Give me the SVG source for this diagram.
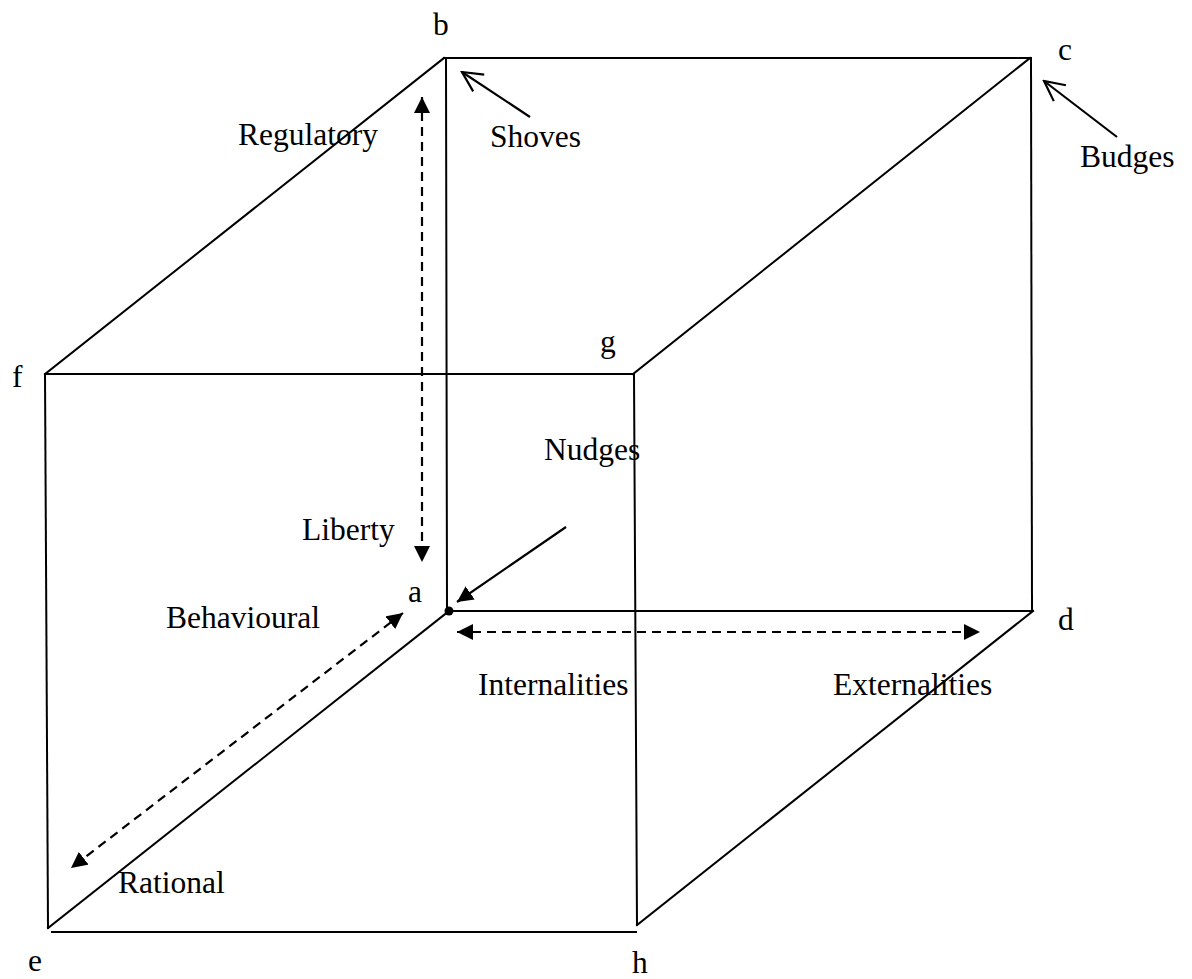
<svg xmlns="http://www.w3.org/2000/svg" width="1192" height="979" viewBox="0 0 1192 979">
<style>
.edge{stroke:#000;stroke-width:2;fill:none;stroke-linecap:square}
.dash{stroke:#000;stroke-width:2.2;fill:none;stroke-dasharray:9 6}
.arr{stroke:#000;stroke-width:2.2;fill:none}
text{font-family:"Liberation Serif","Times New Roman",serif;font-size:31.5px;fill:#000}
</style>
<defs>
<marker id="fill" viewBox="0 0 10 10" refX="10" refY="5" markerWidth="16" markerHeight="16" markerUnits="userSpaceOnUse" orient="auto-start-reverse">
<path d="M0,0 L10,5 L0,10 z" fill="#000"/>
</marker>
<marker id="open" viewBox="0 0 12 12" refX="11" refY="6" markerWidth="24" markerHeight="24" markerUnits="userSpaceOnUse" orient="auto">
<path d="M1,1 L11,6 L1,11" fill="none" stroke="#000" stroke-width="1.1"/>
</marker>
</defs>
<rect width="1192" height="979" fill="#fff"/>
<g id="cube">
<line class="edge" x1="444" y1="58" x2="1030" y2="58"/>
<line class="edge" x1="45" y1="374" x2="444" y2="58"/>
<line class="edge" x1="446" y1="58" x2="447" y2="611"/>
<line class="edge" x1="449" y1="611" x2="1033" y2="611"/>
<line class="edge" x1="1031" y1="58" x2="1032" y2="611"/>
<line class="edge" x1="45" y1="374" x2="633" y2="374"/>
<line class="edge" x1="633" y1="374" x2="1030" y2="58"/>
<line class="edge" x1="634" y1="374" x2="637" y2="925"/>
<line class="edge" x1="637" y1="925" x2="1033" y2="611"/>
<line class="edge" x1="45" y1="374" x2="48" y2="928"/>
<line class="edge" x1="48" y1="928" x2="449" y2="611"/>
<line class="edge" x1="52" y1="932" x2="636" y2="932"/>
<circle cx="449" cy="611" r="4.5" fill="#000"/>
</g>
<g id="connectors">
<line class="dash" x1="422" y1="97" x2="422" y2="562" marker-start="url(#fill)" marker-end="url(#fill)"/>
<line class="dash" x1="457" y1="632" x2="980" y2="632" marker-start="url(#fill)" marker-end="url(#fill)"/>
<line class="dash" x1="403" y1="613" x2="71" y2="868" marker-start="url(#fill)" marker-end="url(#fill)"/>
<line class="arr" x1="566" y1="527" x2="457" y2="602" marker-end="url(#fill)"/>
<line class="arr" x1="530" y1="117" x2="462" y2="72" marker-end="url(#open)"/>
<line class="arr" x1="1117" y1="137" x2="1044" y2="81" marker-end="url(#open)"/>
</g>
<g id="labels">
<text x="433" y="35">b</text>
<text x="1058" y="60">c</text>
<text x="12" y="387">f</text>
<text x="600" y="352">g</text>
<text x="408" y="602">a</text>
<text x="1058" y="630">d</text>
<text x="28" y="971">e</text>
<text x="632" y="973">h</text>
</g>
<g id="node-regulatory"><text x="238" y="145">Regulatory</text></g>
<g id="node-shoves"><text x="490" y="147">Shoves</text></g>
<g id="node-budges"><text x="1080" y="167">Budges</text></g>
<g id="node-liberty"><text x="302" y="540">Liberty</text></g>
<g id="node-nudges"><text x="544" y="460">Nudges</text></g>
<g id="node-behavioural"><text x="166" y="628">Behavioural</text></g>
<g id="node-internalities"><text x="478" y="695">Internalities</text></g>
<g id="node-externalities"><text x="833" y="695">Externalities</text></g>
<g id="node-rational"><text x="118" y="893">Rational</text></g>
</svg>
